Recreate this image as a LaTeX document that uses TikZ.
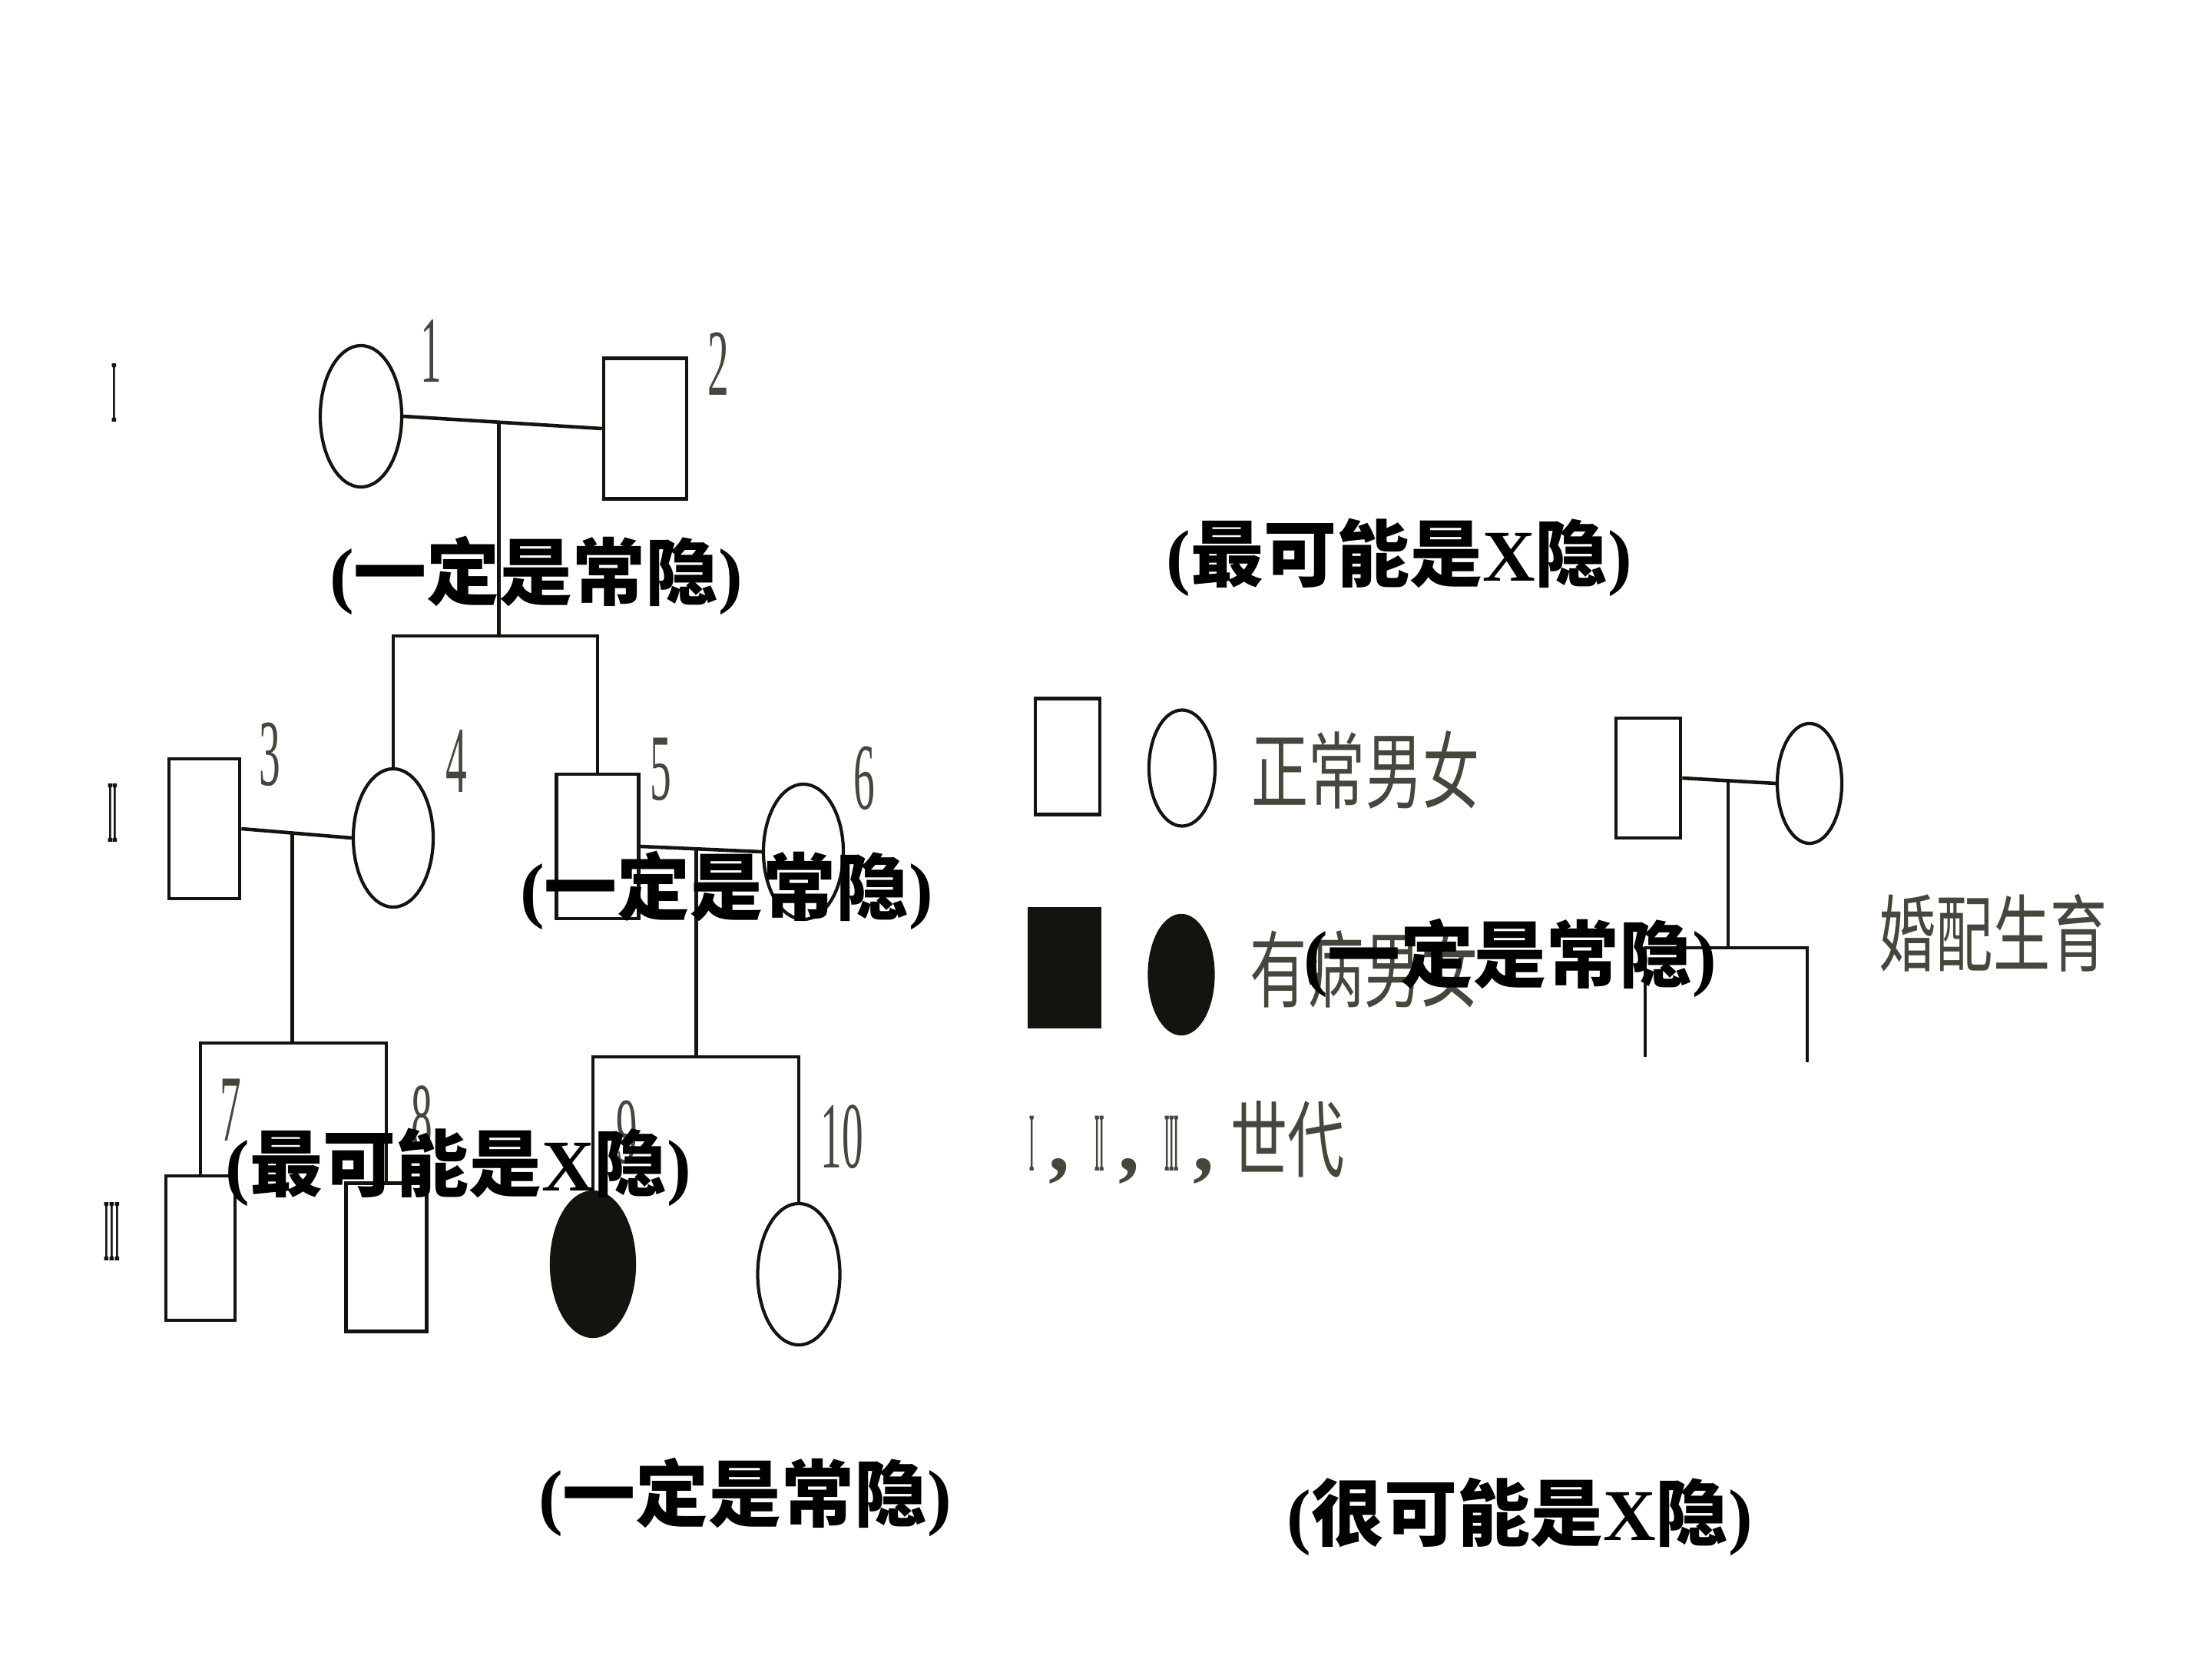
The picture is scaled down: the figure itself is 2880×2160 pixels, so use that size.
\documentclass[tikz,border=0pt]{standalone}
\usepackage{fontspec}
\usepackage{graphicx}
\setmainfont{Liberation Serif}
\newfontfamily\cjk{Noto Sans CJK SC}
\usetikzlibrary{shapes.geometric,calc}
\definecolor{ink}{RGB}{20,20,15}
\definecolor{scan}{RGB}{70,70,60}
\newcommand\sqx[2]{\scalebox{#1}[1]{#2}}
\newcommand\lt[1]{(\cjk #1\rmfamily)}
\tikzset{
  male/.style={draw=ink, line width=1.3pt, rectangle, inner sep=0pt},
  female/.style={draw=ink, line width=1.2pt, ellipse, inner sep=0pt},
  aff/.style={fill=ink},
  link/.style={draw=ink, line width=1.3pt},
  num/.style={inner sep=0pt, text=scan, font=\fontsize{35}{35}\selectfont},
  genmark/.style={inner sep=0pt, text=ink, font=\fontsize{33}{33}\selectfont\bfseries},
  legtxt/.style={inner sep=0pt, text=scan, font=\fontsize{31}{31}\selectfont\cjk},
  lab/.style={inner sep=0pt, text=black, font=\fontsize{27}{27}\selectfont\bfseries},
}
\begin{document}
\begin{tikzpicture}[x=0.01cm, y=-0.01cm]
\fill[white] (0,0) rectangle (2880,2160);
\useasboundingbox (0,0) rectangle (2880,2160);

% generation marks
\node[genmark] (g1) at (149,512) {\sqx{0.15}{I}};
\node[genmark] (g2) at (147,1058) {\sqx{0.15}{II}};
\node[genmark] (g3) at (146,1603) {\sqx{0.15}{III}};

% generation I
\node[female, minimum width=10.6mm, minimum height=18.4mm] (c1) at (470,542) {};
\node[male, minimum width=10.8mm, minimum height=18.3mm] (s2) at (840,558) {};
\node[num] (n1) at (561,457) {\sqx{0.45}{1}};
\node[num] (n2) at (935,474) {\sqx{0.45}{2}};

% generation II
\node[male, minimum width=9.2mm, minimum height=18.2mm] (s3) at (266,1079) {};
\node[female, minimum width=10.4mm, minimum height=18.0mm] (c4) at (512,1091) {};
\node[male, minimum width=10.7mm, minimum height=18.8mm] (s5) at (778,1102) {};
\node[female, minimum width=10.4mm, minimum height=17.6mm] (c6) at (1046,1109) {};
\node[num] (n3) at (351,982) {\sqx{0.45}{3}};
\node[num] (n4) at (594,991) {\sqx{0.45}{4}};
\node[num] (n5) at (860,1002) {\sqx{0.45}{5}};
\node[num] (n6) at (1125,1013) {\sqx{0.45}{6}};

% generation III
\node[male, minimum width=9.0mm, minimum height=18.8mm] (s7) at (261,1625) {};
\node[male, minimum width=10.5mm, minimum height=19.3mm] (s8) at (503,1637) {};
\node[female, aff, minimum width=10.8mm, minimum height=18.8mm] (c9) at (772,1646) {};
\node[female, minimum width=10.7mm, minimum height=18.4mm] (c10) at (1040,1659) {};
\node[num] (n7) at (300,1445) {\sqx{0.45}{7}};
\node[num] (n8) at (549,1455) {\sqx{0.45}{8}};
\node[num] (n9) at (816,1474) {\sqx{0.45}{9}};
\node[num] (n10) at (1096,1480) {\sqx{0.45}{10}};

% connectors
\coordinate (m12) at ($(c1.east)!0.48!(s2.west)$);
\coordinate (sib1) at (648,828);
\draw[link] (c1.east) -- (s2.west);
\draw[link] (m12) -- (m12 |- sib1);
\draw[link] (c4.north) |- (sib1) -| (s5.north);

\coordinate (m34) at ($(s3.east)!0.46!(c4.west)$);
\coordinate (sib2) at (380,1358);
\draw[link] (s3.east) -- (c4.west);
\draw[link] (m34) -- (m34 |- sib2);
\draw[link] (s7.north) |- (sib2) -| (s8.north);

\coordinate (m56) at ($(s5.east)!0.46!(c6.west)$);
\coordinate (sib3) at (907,1376);
\draw[link] (s5.east) -- (c6.west);
\draw[link] (m56) -- (m56 |- sib3);
\draw[link] (c9.north) |- (sib3) -| (c10.north);

% legend
\node[male, minimum width=8.4mm, minimum height=15.1mm] (ls1) at (1390,985) {};
\node[female, minimum width=8.6mm, minimum height=15.1mm] (lc1) at (1539,1000) {};
\node[male, aff, minimum width=9.2mm, minimum height=15.4mm] (ls2) at (1386,1260) {};
\node[female, aff, minimum width=8.3mm, minimum height=15.4mm] (lc2) at (1538,1269) {};
\node[legtxt] (lt1) at (1778,1003) {\sqx{0.68}{正常男女}};
\node[legtxt] (lt2) at (1776,1262) {\sqx{0.68}{有病男女}};
\node[legtxt, anchor=west] (lt3) at (1340,1487) {\rmfamily\bfseries\sqx{0.15}{I}\,,\hspace{0.3em}\sqx{0.15}{II}\,,\hspace{0.3em}\sqx{0.15}{III}\,,\hspace{0.2em}\mdseries\cjk\sqx{0.68}{世代}};

\node[male, minimum width=8.4mm, minimum height=15.6mm] (ms) at (2146,1013) {};
\node[female, minimum width=8.4mm, minimum height=15.6mm] (mc) at (2356,1020) {};
\coordinate (mm) at ($(ms.east)!0.49!(mc.west)$);
\coordinate (msib) at (2250,1234);
\coordinate (d1) at (2142,1376);
\coordinate (d2) at (2353,1383);
\draw[link] (ms.east) -- (mc.west);
\draw[link] (mm) -- (mm |- msib);
\draw[link] (d1) |- (msib) -| (d2);
\node[legtxt] (lt4) at (2595,1215) {\sqx{0.68}{婚配生育}};

% overlay labels
\node[lab] (t1) at (698,749) {\lt{一定是常隐}};
\node[lab] (t2) at (1822,726) {\lt{最可能是\rmfamily X\cjk 隐}};
\node[lab] (t3) at (946,1159) {\lt{一定是常隐}};
\node[lab] (t4) at (1966,1247) {\lt{一定是常隐}};
\node[lab] (t5) at (597,1520) {\lt{最可能是\rmfamily X\cjk 隐}};
\node[lab] (t6) at (970,1949) {\lt{一定是常隐}};
\node[lab] (t7) at (1979,1975) {\lt{很可能是\rmfamily X\cjk 隐}};
\end{tikzpicture}
\end{document}
